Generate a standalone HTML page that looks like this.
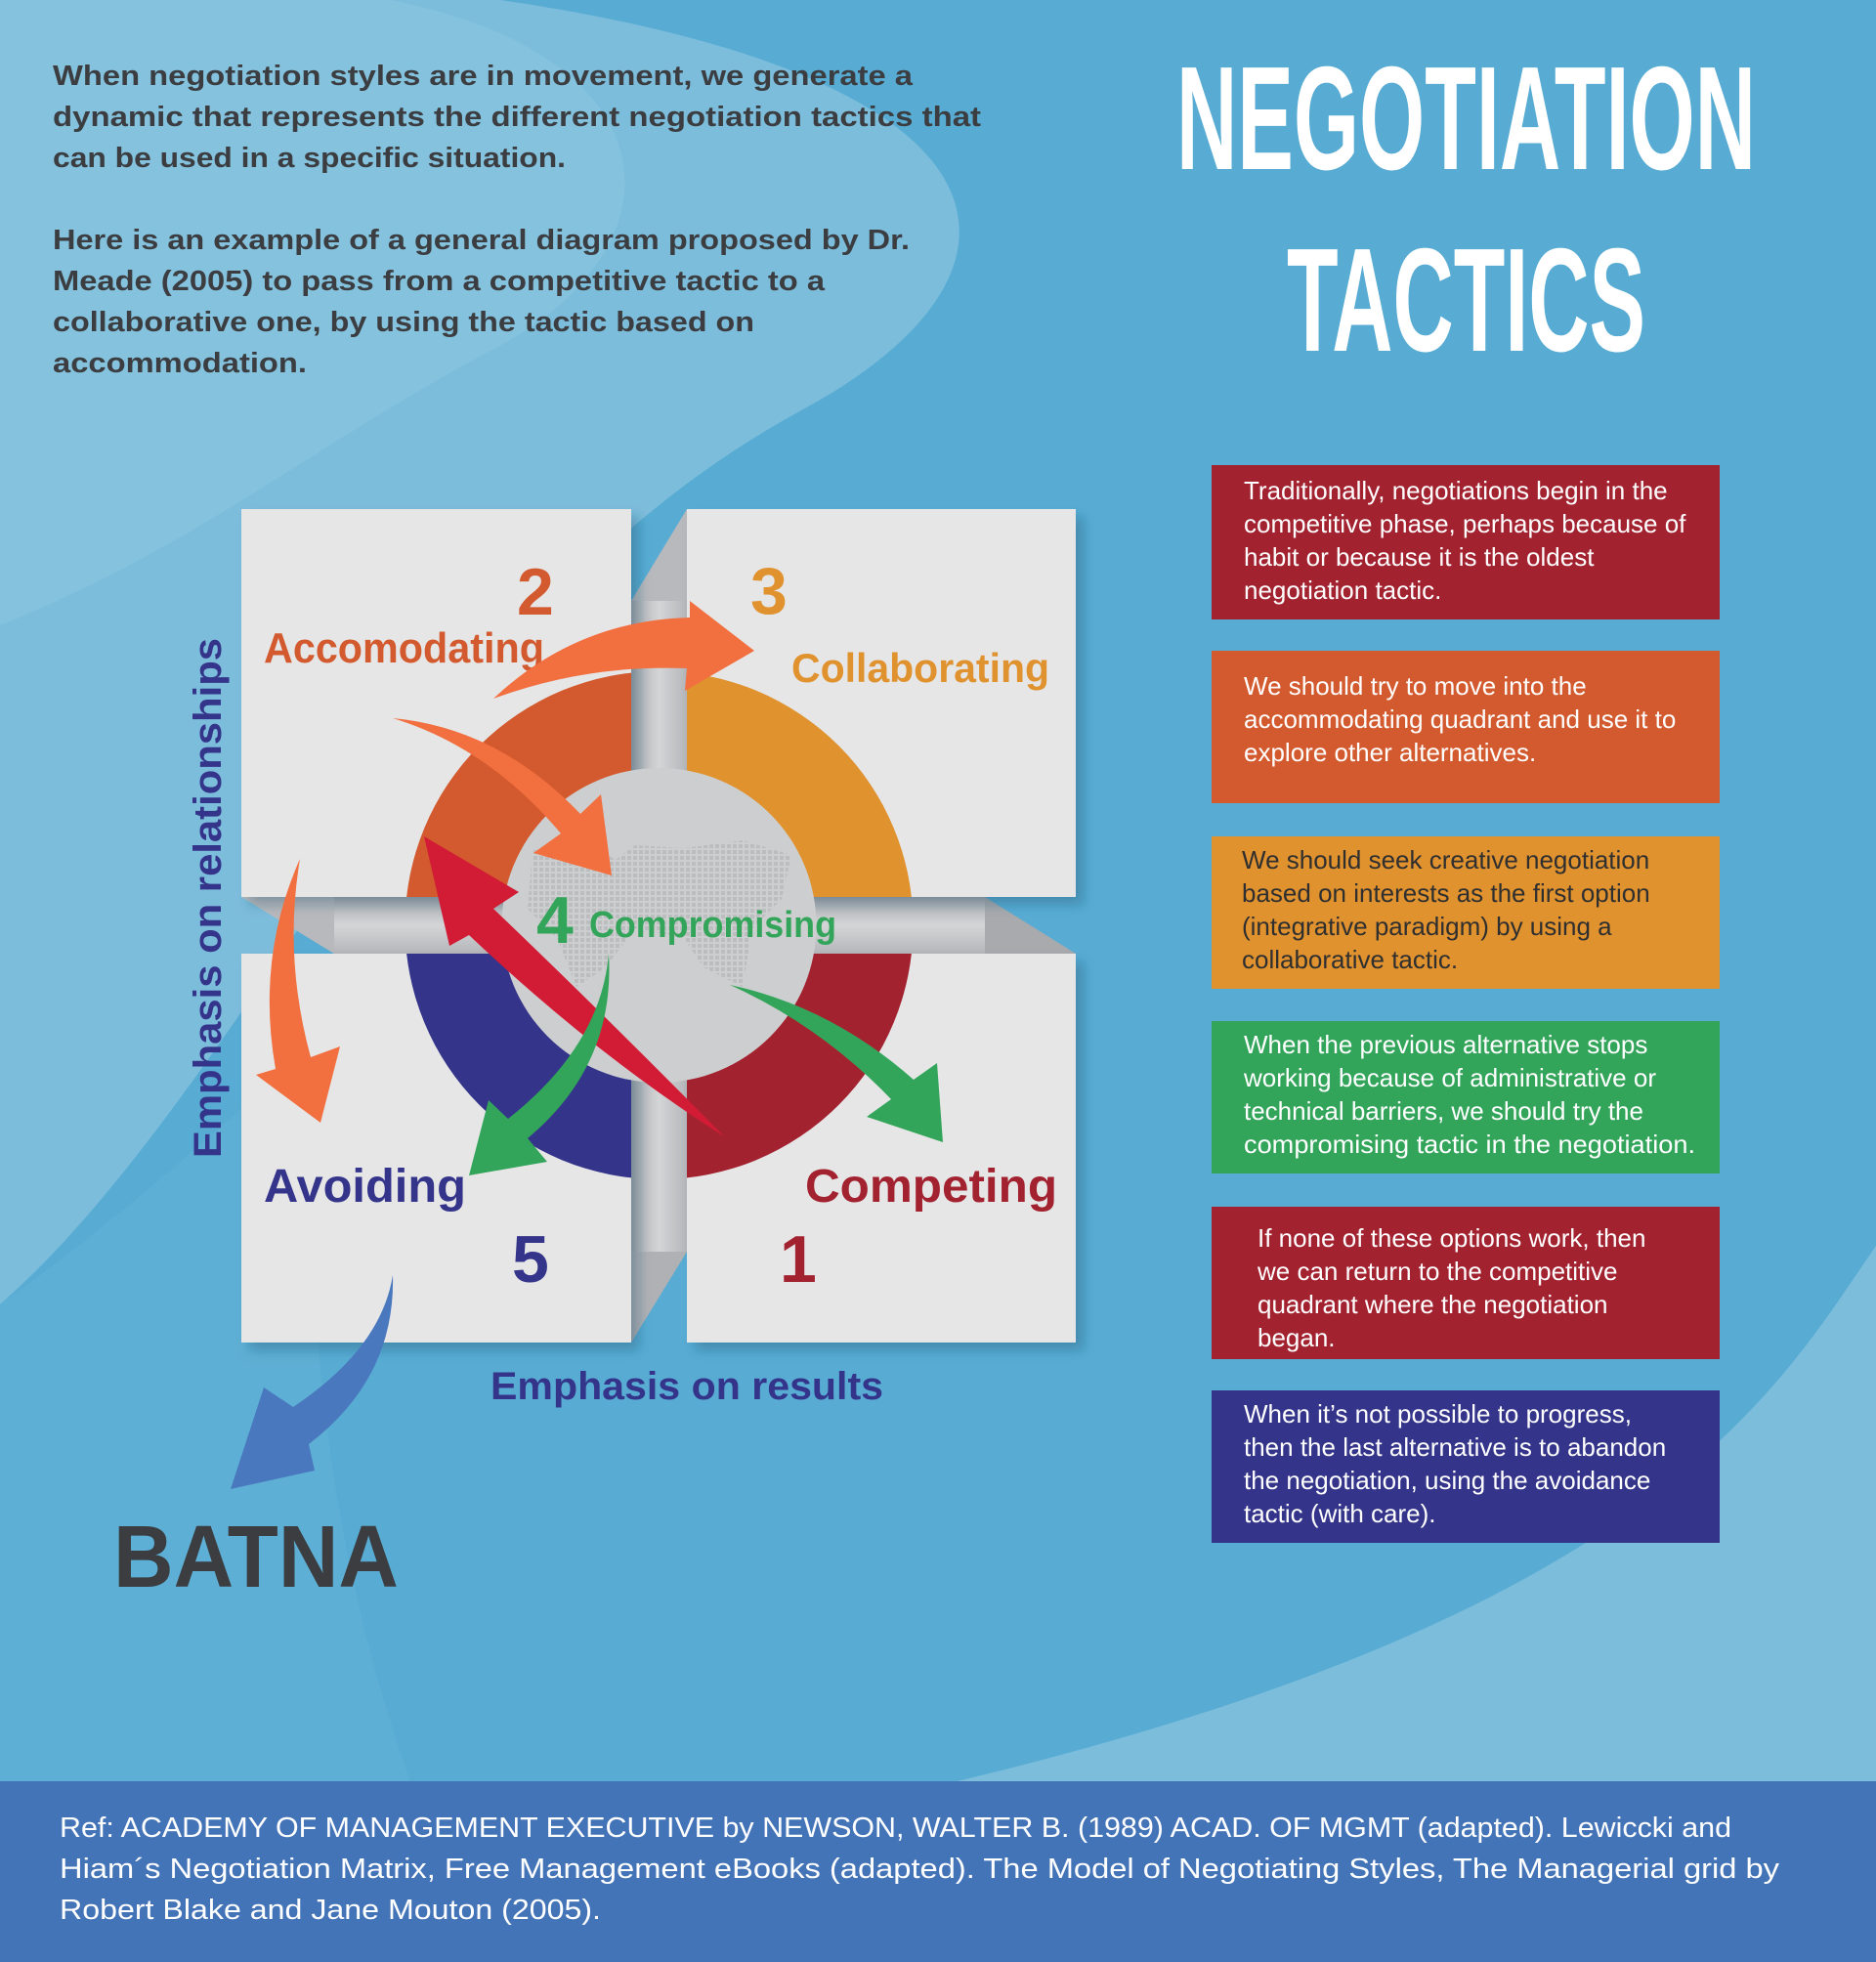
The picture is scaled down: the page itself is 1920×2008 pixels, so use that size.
<!DOCTYPE html>
<html><head><meta charset="utf-8"><style>
html,body{margin:0;padding:0;width:1920px;height:2008px;overflow:hidden;background:#58acd3}
svg{display:block}
text{font-family:"Liberation Sans",sans-serif}
</style></head><body>
<svg width="1920" height="2008" viewBox="0 0 1920 2008" xmlns="http://www.w3.org/2000/svg">
<defs>
<filter id="sh" x="-10%" y="-10%" width="130%" height="130%"><feDropShadow dx="8" dy="8" stdDeviation="6" flood-color="#1d4f6e" flood-opacity="0.35"/></filter>
<linearGradient id="bar" x1="0" y1="0" x2="1" y2="0"><stop offset="0" stop-color="#a9aaad"/><stop offset="0.5" stop-color="#d4d5d7"/><stop offset="1" stop-color="#b5b6b9"/></linearGradient>
<linearGradient id="barh" x1="0" y1="0" x2="0" y2="1"><stop offset="0" stop-color="#a9aaad"/><stop offset="0.5" stop-color="#d4d5d7"/><stop offset="1" stop-color="#b5b6b9"/></linearGradient>
<clipPath id="cTL"><rect x="0" y="0" width="646" height="918"/></clipPath>
<clipPath id="cTR"><rect x="703" y="0" width="600" height="918"/></clipPath>
<clipPath id="cBL"><rect x="0" y="976" width="646" height="600"/></clipPath>
<clipPath id="cBR"><rect x="703" y="976" width="600" height="600"/></clipPath>
<pattern id="dots" width="6" height="6" patternUnits="userSpaceOnUse"><rect width="4" height="4" fill="#b4b5b7"/></pattern>
</defs>
<rect width="1920" height="2008" fill="#58acd3"/>
<path d="M0,0 L512,0 C1060,80 1080,280 820,420 C600,540 470,720 340,900 C230,1060 120,1230 0,1335 Z" fill="#7dbddc"/>
<path d="M0,0 L400,0 C700,60 700,260 500,360 C330,450 200,560 0,640 Z" fill="#88c4e0" opacity="0.6"/>
<path d="M1920,1275 C1820,1420 1700,1650 980,1823 L1920,1823 Z" fill="#7dbddc"/>
<path d="M0,1335 C120,1250 230,1150 330,1060 C300,1320 340,1600 420,1823 L0,1823 Z" fill="#64b2d7" opacity="0.5"/>

<g font-weight="bold" font-size="29" fill="#3b3d40">
<text x="54" y="87" textLength="880" lengthAdjust="spacingAndGlyphs">When negotiation styles are in movement, we generate a</text>
<text x="54" y="129" textLength="950" lengthAdjust="spacingAndGlyphs">dynamic that represents the different negotiation tactics that</text>
<text x="54" y="171" textLength="525" lengthAdjust="spacingAndGlyphs">can be used in a specific situation.</text>
<text x="54" y="255" textLength="877" lengthAdjust="spacingAndGlyphs">Here is an example of a general diagram proposed by Dr.</text>
<text x="54" y="297" textLength="790" lengthAdjust="spacingAndGlyphs">Meade (2005) to pass from a competitive tactic to a</text>
<text x="54" y="339" textLength="718" lengthAdjust="spacingAndGlyphs">collaborative one, by using the tactic based on</text>
<text x="54" y="381" textLength="260" lengthAdjust="spacingAndGlyphs">accommodation.</text>
</g>

<g font-weight="bold" fill="#ffffff" font-size="151">
<text x="1204" y="173" textLength="593" lengthAdjust="spacingAndGlyphs">NEGOTIATION</text>
<text x="1317" y="359" textLength="367" lengthAdjust="spacingAndGlyphs">TACTICS</text>
</g>

<g font-size="26" fill="#ffffff">
<rect x="1240" y="476" width="520" height="158" fill="#a32230"/>
<text x="1273" y="511">Traditionally, negotiations begin in the</text>
<text x="1273" y="545">competitive phase, perhaps because of</text>
<text x="1273" y="579">habit or because it is the oldest</text>
<text x="1273" y="613">negotiation tactic.</text>
<rect x="1240" y="666" width="520" height="156" fill="#d35a2e"/>
<text x="1273" y="711">We should try to move into the</text>
<text x="1273" y="745">accommodating quadrant and use it to</text>
<text x="1273" y="779">explore other alternatives.</text>
<rect x="1240" y="856" width="520" height="156" fill="#e0922f"/>
<text x="1271" y="889" fill="#2f2f2f">We should seek creative negotiation</text>
<text x="1271" y="923" fill="#2f2f2f">based on interests as the first option</text>
<text x="1271" y="957" fill="#2f2f2f">(integrative paradigm) by using a</text>
<text x="1271" y="991" fill="#2f2f2f">collaborative tactic.</text>
<rect x="1240" y="1045" width="520" height="156" fill="#33a55a"/>
<text x="1273" y="1078">When the previous alternative stops</text>
<text x="1273" y="1112">working because of administrative or</text>
<text x="1273" y="1146">technical barriers, we should try the</text>
<text x="1273" y="1180" textLength="462" lengthAdjust="spacingAndGlyphs">compromising tactic in the negotiation.</text>
<rect x="1240" y="1235" width="520" height="156" fill="#a32230"/>
<text x="1287" y="1276">If none of these options work, then</text>
<text x="1287" y="1310">we can return to the competitive</text>
<text x="1287" y="1344">quadrant where the negotiation</text>
<text x="1287" y="1378">began.</text>
<rect x="1240" y="1423" width="520" height="156" fill="#33348a"/>
<text x="1273" y="1456">When it’s not possible to progress,</text>
<text x="1273" y="1490">then the last alternative is to abandon</text>
<text x="1273" y="1524">the negotiation, using the avoidance</text>
<text x="1273" y="1558">tactic (with care).</text>
</g>

<rect x="646" y="615" width="57" height="666" fill="url(#bar)"/>
<rect x="342" y="918" width="666" height="58" fill="url(#barh)"/>
<polygon points="703,521 646,615 703,615" fill="#b8b9bc"/>
<polygon points="646,1374 703,1281 646,1281" fill="#b0b1b4"/>
<polygon points="247,918 342,918 342,976" fill="#b8b9bc"/>
<polygon points="1101,976 1008,918 1008,976" fill="#a9aaad"/>
<g filter="url(#sh)" fill="#e6e6e7">
<rect x="247" y="521" width="399" height="397"/>
<rect x="703" y="521" width="398" height="397"/>
<rect x="247" y="976" width="399" height="398"/>
<rect x="703" y="976" width="398" height="398"/>
</g>
<circle cx="674.5" cy="947" r="260" fill="#d35a2e" clip-path="url(#cTL)"/>
<circle cx="674.5" cy="947" r="260" fill="#e0922f" clip-path="url(#cTR)"/>
<circle cx="674.5" cy="947" r="260" fill="#33348a" clip-path="url(#cBL)"/>
<circle cx="674.5" cy="947" r="260" fill="#a32230" clip-path="url(#cBR)"/>
<circle cx="674.5" cy="947" r="161" fill="#cdcecf"/>
<path d="M545,870 L600,862 L630,880 L650,865 L700,868 L760,860 L810,875 L800,920 L770,950 L760,1010 L720,990 L700,960 L650,950 L620,990 L590,1010 L570,960 L540,930 Z" fill="url(#dots)" opacity="0.7"/>

<g font-weight="bold">
<text x="529" y="629" font-size="68" fill="#d35a2e">2</text>
<text x="270" y="678" font-size="44" fill="#d35a2e" textLength="287" lengthAdjust="spacingAndGlyphs">Accomodating</text>
<text x="768" y="628" font-size="68" fill="#e0922f">3</text>
<text x="810" y="698" font-size="42" fill="#e0922f" textLength="264" lengthAdjust="spacingAndGlyphs">Collaborating</text>
<text x="549" y="965" font-size="68" fill="#33a55a">4</text>
<text x="603" y="959" font-size="38" fill="#33a55a" textLength="253" lengthAdjust="spacingAndGlyphs">Compromising</text>
<text x="270" y="1230" font-size="48" fill="#33348a" textLength="207" lengthAdjust="spacingAndGlyphs">Avoiding</text>
<text x="824" y="1230" font-size="48" fill="#a32230" textLength="258" lengthAdjust="spacingAndGlyphs">Competing</text>
<text x="524" y="1312" font-size="68" fill="#33348a">5</text>
<text x="798" y="1312" font-size="68" fill="#a32230">1</text>
<text x="502" y="1432" font-size="40" fill="#33348a" textLength="402" lengthAdjust="spacingAndGlyphs">Emphasis on results</text>
<text transform="translate(226,1185) rotate(-90)" font-size="40" fill="#33348a" textLength="532" lengthAdjust="spacingAndGlyphs">Emphasis on relationships</text>
<text x="116" y="1624" font-size="90" fill="#3b3d40" textLength="292" lengthAdjust="spacingAndGlyphs">BATNA</text>
</g>

<path d="M505,715 Q590,635 706,632 L706,615 L772,666 L701,707 L703,684 Q600,680 505,715 Z" fill="#f26f3f"/>
<path d="M402,735 Q510,745 594,833 L615,813 L626,896 L546,873 L574,853 Q500,765 402,735 Z" fill="#f26f3f"/>
<path d="M307,879 Q262,980 282,1094 L262,1100 L328,1149 L348,1071 L318,1082 Q290,980 307,879 Z" fill="#f26f3f"/>
<path d="M741,1163 Q610,1080 480,957 L460,968 L434,856 L531,913 L505,930 Q620,1040 741,1163 Z" fill="#d21c35"/>
<path d="M623,976 Q615,1070 520,1145 L500,1126 L480,1203 L560,1189 L540,1165 Q630,1090 623,976 Z" fill="#33a55a"/>
<path d="M747,1008 Q850,1030 935,1105 L959,1088 L965,1169 L887,1143 L912,1125 Q840,1050 747,1008 Z" fill="#33a55a"/>
<path d="M402,1305 Q390,1380 300,1440 L270,1420 L236,1524 L322,1505 L316,1478 Q405,1410 402,1305 Z" fill="#4a78be"/>

<rect x="0" y="1823" width="1920" height="185" fill="#4474b8"/>
<g font-size="29" fill="#ffffff">
<text x="61" y="1880" textLength="1711" lengthAdjust="spacingAndGlyphs">Ref: ACADEMY OF MANAGEMENT EXECUTIVE by NEWSON, WALTER B. (1989) ACAD. OF MGMT  (adapted). Lewiccki and</text>
<text x="61" y="1922" textLength="1760" lengthAdjust="spacingAndGlyphs">Hiam´s  Negotiation Matrix, Free Management eBooks (adapted). The Model of Negotiating Styles, The Managerial grid by</text>
<text x="61" y="1964" textLength="554" lengthAdjust="spacingAndGlyphs">Robert Blake and Jane Mouton (2005).</text>
</g>
</svg>
</body></html>
